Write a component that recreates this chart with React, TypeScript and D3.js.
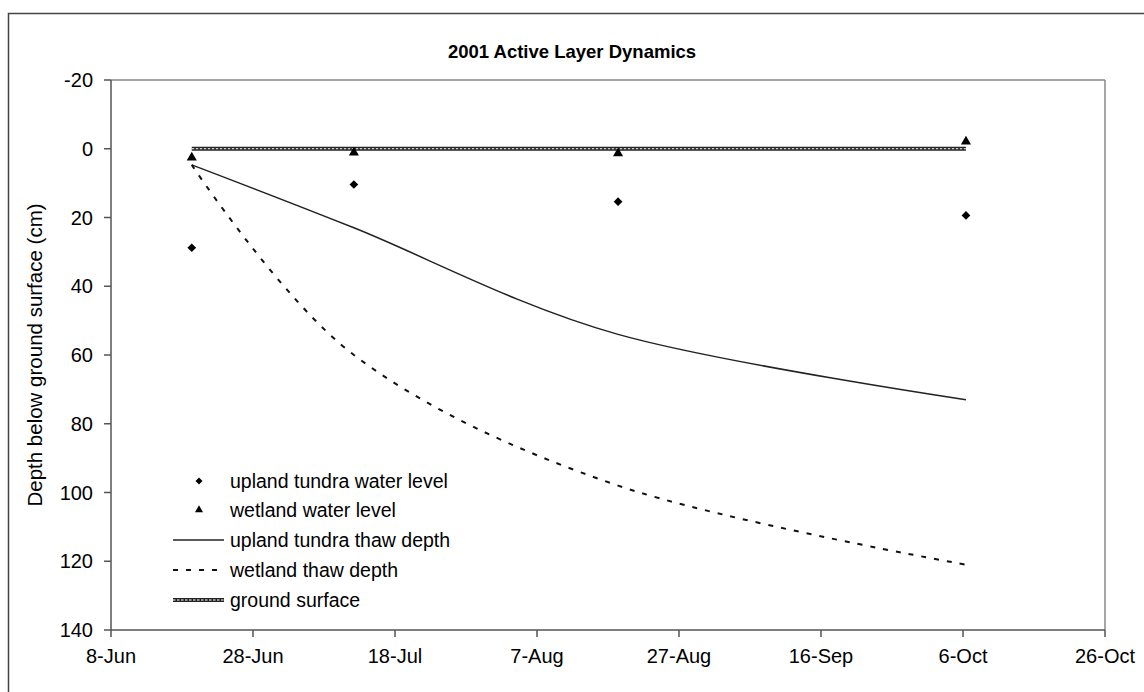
import React from "react";
import * as d3 from "d3";

const sampleDates = ["2001-06-19T09:00", "2001-07-12T05:00", "2001-08-18T10:00", "2001-10-06T10:00"];
const uplandWaterLevel = [28.8, 10.4, 15.4, 19.4];
const wetlandWaterLevel = [2.6, 1.1, 1.3, -2.1];
const uplandThawDepth = [4.7, 23, 54, 73];
const wetlandThawDepth = [4.7, 60, 98, 121];
const groundSurface = [0, 0, 0, 0];

const xTickDates = ["2001-06-08", "2001-06-28", "2001-07-18", "2001-08-07", "2001-08-27", "2001-09-16", "2001-10-06", "2001-10-26"];
const xTickLabels = ["8-Jun", "28-Jun", "18-Jul", "7-Aug", "27-Aug", "16-Sep", "6-Oct", "26-Oct"];
const yTicks = [-20, 0, 20, 40, 60, 80, 100, 120, 140];

const legendLabels = [
  "upland tundra water level",
  "wetland water level",
  "upland tundra thaw depth",
  "wetland thaw depth",
  "ground surface",
];

const W = 1144;
const H = 692;
const font = "'Liberation Sans', Arial, sans-serif";

const parse = (s: string) => new Date(s.length === 10 ? s + "T00:00" : s);

export default function App() {
  const x = d3.scaleTime().domain([parse(xTickDates[0]), parse(xTickDates[xTickDates.length - 1])]).range([111, 1105]);
  const y = d3.scaleLinear().domain([-20, 140]).range([80, 630]);
  const xs = sampleDates.map(parse);

  const line = d3
    .line<[Date, number]>()
    .x((d) => x(d[0]))
    .y((d) => y(d[1]))
    .curve(d3.curveCardinal.tension(0));
  const straight = d3
    .line<[Date, number]>()
    .x((d) => x(d[0]))
    .y((d) => y(d[1]));

  const zip = (vals: number[]) => xs.map((d, i) => [d, vals[i]] as [Date, number]);

  const diamond = d3.symbol().type(d3.symbolSquare).size(38)();
  const triangle = d3.symbol().type(d3.symbolTriangle).size(44)();

  const [x0, x1] = x.range();
  const [yTop, yBot] = [y(-20), y(140)];

  const legendY = [481, 510, 540, 570, 600];
  const lgMarkerX = 199;
  const lgLineX0 = 173;
  const lgLineX1 = 224;
  const lgTextX = 230;

  const groundPath = straight(zip(groundSurface)) || "";

  return (
    <svg width={W} height={H} style={{ position: "absolute", left: 0, top: 0, background: "#fff" }} fontFamily={font}>
      <rect x={0} y={0} width={W} height={H} fill="#fff" />
      <rect x={8.5} y={13.5} width={W + 20} height={H + 20} fill="none" stroke="#444" strokeWidth={1.5} />

      <text x={572} y={58} textAnchor="middle" fontSize={18.5} fontWeight="bold" fill="#000">
        2001 Active Layer Dynamics
      </text>

      {/* plot border top/right */}
      <line x1={x0} x2={x1} y1={yTop} y2={yTop} stroke="#888" strokeWidth={1.5} />
      <line x1={x1} x2={x1} y1={yTop} y2={yBot} stroke="#888" strokeWidth={1.5} />

      {/* y axis */}
      <line x1={x0} x2={x0} y1={yTop} y2={yBot} stroke="#555" strokeWidth={1.5} />
      {yTicks.map((t) => (
        <g key={t}>
          <line x1={x0 - 7} x2={x0} y1={y(t)} y2={y(t)} stroke="#555" strokeWidth={1.5} />
          <text x={93} y={y(t)} dy="0.35em" textAnchor="end" fontSize={20} fill="#000">
            {t}
          </text>
        </g>
      ))}

      {/* x axis */}
      <line x1={x0} x2={x1} y1={yBot} y2={yBot} stroke="#555" strokeWidth={1.5} />
      {xTickDates.map((d, i) => (
        <g key={d}>
          <line x1={x(parse(d))} x2={x(parse(d))} y1={yBot} y2={yBot + 7} stroke="#555" strokeWidth={1.5} />
          <text x={x(parse(d))} y={656} dy="0.35em" textAnchor="middle" fontSize={20} fill="#000">
            {xTickLabels[i]}
          </text>
        </g>
      ))}

      <text
        transform={`translate(35,355) rotate(-90)`}
        textAnchor="middle"
        dy="0.35em"
        fontSize={20.5}
        fill="#000"
      >
        Depth below ground surface (cm)
      </text>

      {/* ground surface */}
      <path d={groundPath} fill="none" stroke="#222" strokeWidth={4} />
      <path d={groundPath} fill="none" stroke="#fff" strokeWidth={1.2} strokeDasharray="2.5,1.5" />

      {/* thaw depth curves */}
      <path d={line(zip(uplandThawDepth)) || ""} fill="none" stroke="#222" strokeWidth={1.5} />
      <path d={line(zip(wetlandThawDepth)) || ""} fill="none" stroke="#111" strokeWidth={2} strokeDasharray="5,8" />

      {/* markers */}
      {xs.map((d, i) => (
        <path key={"u" + i} d={diamond || ""} transform={`translate(${x(d)},${y(uplandWaterLevel[i])}) rotate(45)`} fill="#000" />
      ))}
      {xs.map((d, i) => (
        <path key={"w" + i} d={triangle || ""} transform={`translate(${x(d)},${y(wetlandWaterLevel[i])})`} fill="#000" />
      ))}

      {/* legend */}
      <path d={diamond || ""} transform={`translate(${lgMarkerX},${legendY[0]}) rotate(45) scale(0.8)`} fill="#000" />
      <path d={triangle || ""} transform={`translate(${lgMarkerX},${legendY[1]}) scale(0.8)`} fill="#000" />
      <line x1={lgLineX0} x2={lgLineX1} y1={legendY[2]} y2={legendY[2]} stroke="#222" strokeWidth={1.5} />
      <line x1={lgLineX0} x2={lgLineX1} y1={legendY[3]} y2={legendY[3]} stroke="#111" strokeWidth={2} strokeDasharray="5,8" />
      <line x1={lgLineX0} x2={lgLineX1} y1={legendY[4]} y2={legendY[4]} stroke="#222" strokeWidth={4} />
      <line x1={lgLineX0} x2={lgLineX1} y1={legendY[4]} y2={legendY[4]} stroke="#fff" strokeWidth={1.2} strokeDasharray="2.5,1.5" />
      {legendLabels.map((l, i) => (
        <text key={l} x={lgTextX} y={legendY[i]} dy="0.35em" fontSize={19.5} fill="#000">
          {l}
        </text>
      ))}
    </svg>
  );
}
